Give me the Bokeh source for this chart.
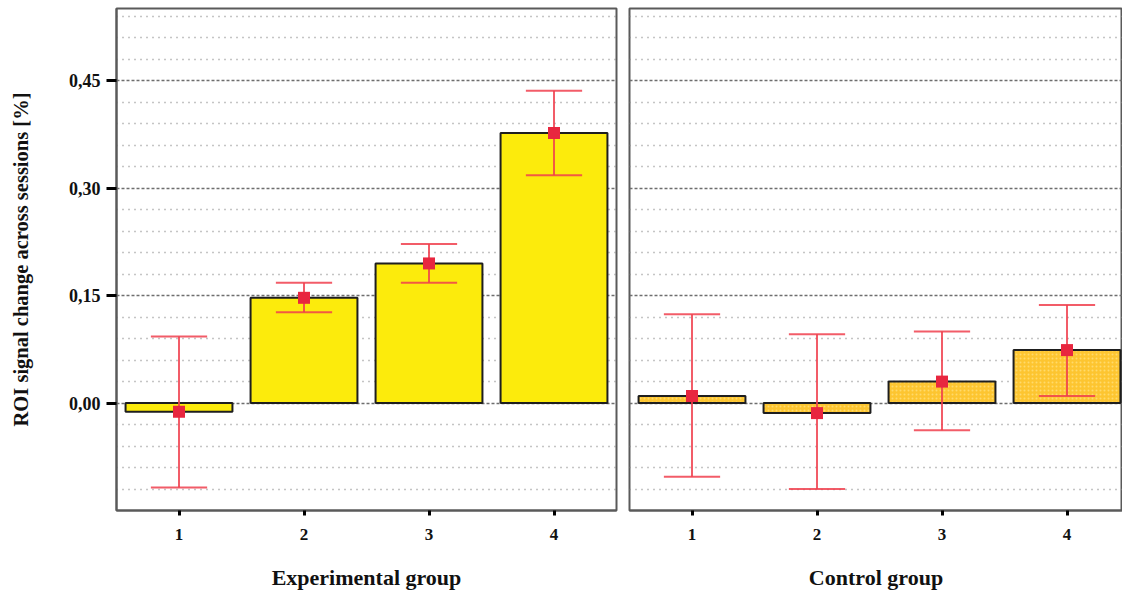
from bokeh.plotting import figure
from bokeh.layouts import row
from bokeh.models import FixedTicker, CustomJSTickFormatter, Range1d
from bokeh.embed import file_html
from bokeh.resources import INLINE

# ---- data ----
sessions = [1, 2, 3, 4]
session_labels = ["1", "2", "3", "4"]
exp_mean = [-0.012, 0.147, 0.195, 0.377]
exp_upper = [0.093, 0.168, 0.222, 0.436]
exp_lower = [-0.118, 0.127, 0.168, 0.318]
ctrl_mean = [0.010, -0.014, 0.030, 0.074]
ctrl_upper = [0.124, 0.096, 0.100, 0.137]
ctrl_lower = [-0.103, -0.120, -0.038, 0.010]
major_ticks = [0.0, 0.15, 0.30, 0.45]
minor_ticks = [-0.12, -0.09, -0.06, -0.03, 0.03, 0.06, 0.09, 0.12,
               0.18, 0.21, 0.24, 0.27, 0.33, 0.36, 0.39, 0.42, 0.48, 0.51, 0.54]
y_title = "ROI signal change across sessions [%]"
group_titles = ["Experimental group", "Control group"]

FONT = "Liberation Serif"
ERR = "#F0404E"
MARK = "#E8263F"
Y0, Y1 = -0.15, 0.551
BAR_W = 0.855
CAP_HALF = 0.225


def make_panel(width, left_border, right_border, x_end, mean, upper, lower,
               fill, title, show_y, hatch=False):
    p = figure(width=width, height=594, output_backend="svg", toolbar_location=None,
               x_range=Range1d(0.5, x_end), y_range=Range1d(Y0, Y1),
               min_border_left=left_border, min_border_right=right_border,
               min_border_top=8, min_border_bottom=84, tools="")
    p.background_fill_color = "white"
    p.border_fill_color = "white"
    p.outline_line_color = "#5a5a5a"
    p.outline_line_width = 2

    kw = dict(x=sessions, top=mean, bottom=0, width=BAR_W, fill_color=fill,
              line_color="#1e1e1e", line_width=2)
    if hatch:
        kw.update(hatch_pattern="dot", hatch_color="#FFE07A", hatch_scale=4,
                  hatch_alpha=0.8, hatch_weight=1)
    p.vbar(**kw)

    p.segment(x0=sessions, y0=lower, x1=sessions, y1=upper,
              line_color=ERR, line_width=2, line_alpha=0.85)
    caps_x0 = [s - CAP_HALF for s in sessions]
    caps_x1 = [s + CAP_HALF for s in sessions]
    p.segment(x0=caps_x0, y0=upper, x1=caps_x1, y1=upper,
              line_color=ERR, line_width=2, line_alpha=0.85)
    p.segment(x0=caps_x0, y0=lower, x1=caps_x1, y1=lower,
              line_color=ERR, line_width=2, line_alpha=0.85)
    p.scatter(x=sessions, y=mean, marker="square", size=12,
              fill_color=MARK, line_color=None)

    # grid
    p.xgrid.visible = False
    p.ygrid.ticker = FixedTicker(ticks=major_ticks, minor_ticks=minor_ticks)
    p.ygrid.grid_line_color = "#6e6e6e"
    p.ygrid.grid_line_width = 1.4
    p.ygrid.grid_line_dash = "3 2"
    p.ygrid.minor_grid_line_color = "#8a8a8a"
    p.ygrid.minor_grid_line_width = 1.3
    p.ygrid.minor_grid_line_dash = "1 5"

    # x axis
    xa = p.xaxis[0]
    xa.ticker = FixedTicker(ticks=sessions)
    xa.major_label_overrides = {s: l for s, l in zip(sessions, session_labels)}
    xa.axis_line_color = "#5a5a5a"
    xa.axis_line_width = 2
    xa.major_tick_line_color = "black"
    xa.major_tick_line_width = 3
    xa.major_tick_out = 5
    xa.major_tick_in = 0
    xa.minor_tick_line_color = None
    xa.major_label_standoff = 13
    xa.major_label_text_font = FONT
    xa.major_label_text_font_style = "bold"
    xa.major_label_text_font_size = "17px"
    xa.major_label_text_color = "#111111"
    xa.axis_label = title
    xa.axis_label_standoff = 22
    xa.axis_label_text_font = FONT
    xa.axis_label_text_font_style = "bold"
    xa.axis_label_text_font_size = "22px"
    xa.axis_label_text_color = "#111111"

    ya = p.yaxis[0]
    if show_y:
        ya.ticker = FixedTicker(ticks=major_ticks, minor_ticks=minor_ticks)
        ya.formatter = CustomJSTickFormatter(
            code="return tick.toFixed(2).replace('.', ',');")
        ya.axis_line_color = "#5a5a5a"
        ya.axis_line_width = 2
        ya.major_tick_line_color = "black"
        ya.major_tick_line_width = 3
        ya.major_tick_out = 10
        ya.major_tick_in = 0
        ya.minor_tick_line_color = None
        ya.major_label_standoff = 6
        ya.major_label_text_font = FONT
        ya.major_label_text_font_style = "bold"
        ya.major_label_text_font_size = "18px"
        ya.major_label_text_color = "#111111"
        ya.axis_label = y_title
        ya.axis_label_standoff = 34
        ya.axis_label_text_font = FONT
        ya.axis_label_text_font_style = "bold"
        ya.axis_label_text_font_size = "20.5px"
        ya.axis_label_text_color = "#111111"
    else:
        ya.visible = False
    return p


left = make_panel(622, 116, 6, 4.5, exp_mean, exp_upper, exp_lower,
                  "#FCEB0C", group_titles[0], True)
right = make_panel(500, 7, 0, 0.5 + 493 / 125.0, ctrl_mean, ctrl_upper, ctrl_lower,
                   "#FDC530", group_titles[1], False, hatch=True)

layout = row(left, right)
open("out.html", "w").write(file_html(layout, INLINE))
